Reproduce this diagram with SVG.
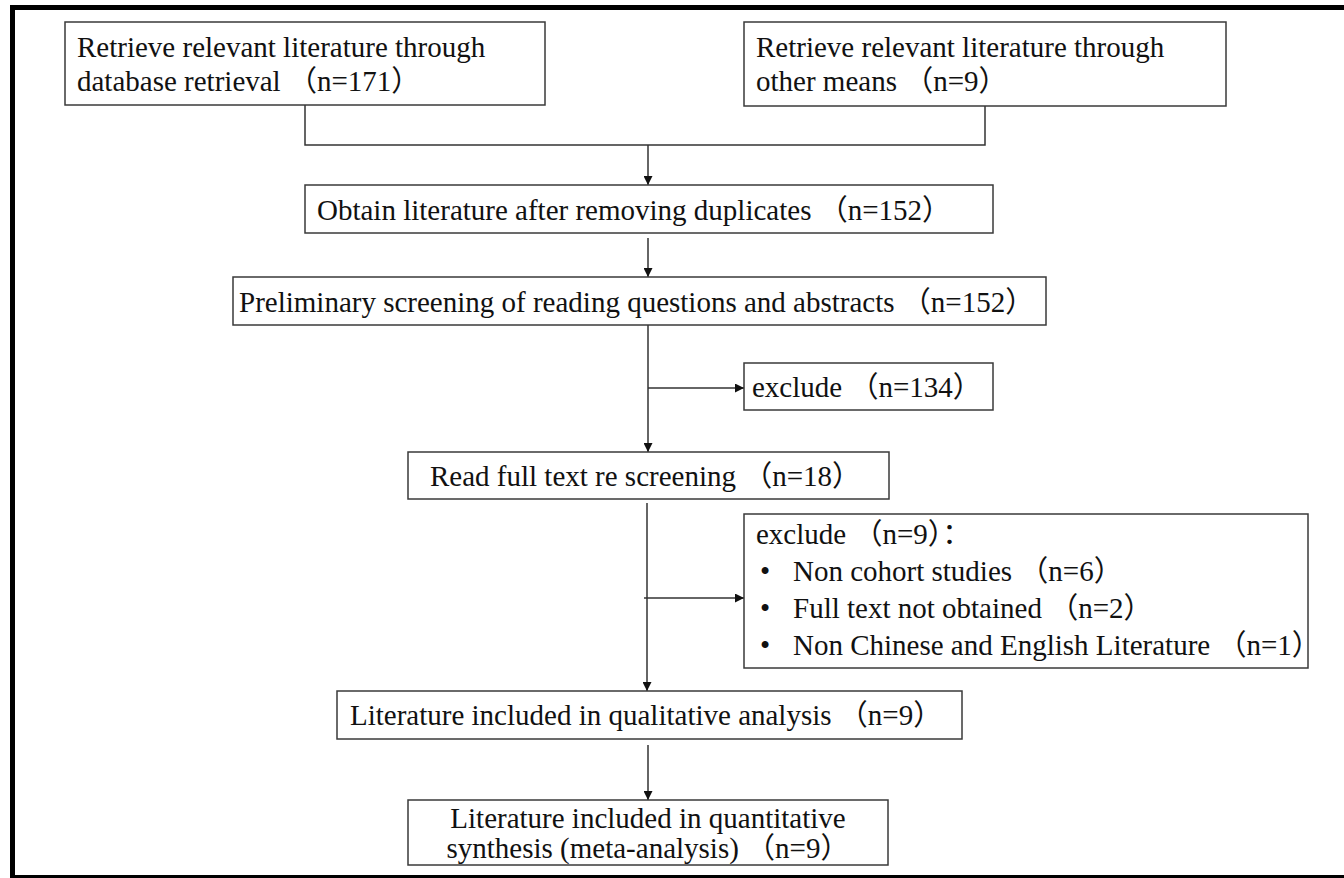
<svg xmlns="http://www.w3.org/2000/svg" width="1344" height="878" viewBox="0 0 1344 878">
<defs>
<style>
.box{fill:#fff;stroke:#3a3a3a;stroke-width:1.5}
.t{font-family:"Liberation Serif","Noto Sans CJK SC",serif;font-size:29px;fill:#111}
.ln{fill:none;stroke:#333;stroke-width:1.5}
</style>
<marker id="ah" viewBox="0 0 10 10" refX="10" refY="5" markerWidth="9" markerHeight="9" markerUnits="userSpaceOnUse" orient="auto">
<path d="M0,0 L10,5 L0,10 z" fill="#111"/>
</marker>
</defs>
<rect x="0" y="0" width="1344" height="878" fill="#fff"/>
<rect x="12.5" y="7.5" width="1400" height="870" fill="none" stroke="#000" stroke-width="5"/>
<g id="connectors">
<polyline class="ln" points="305,105 305,145 985,145 985,106"/>
<line class="ln" x1="648" y1="145" x2="648" y2="185" marker-end="url(#ah)"/>
<line class="ln" x1="648" y1="238" x2="648" y2="277" marker-end="url(#ah)"/>
<line class="ln" x1="648" y1="325" x2="648" y2="452" marker-end="url(#ah)"/>
<line class="ln" x1="648" y1="388" x2="744" y2="388" marker-end="url(#ah)"/>
<line class="ln" x1="647" y1="503" x2="647" y2="691" marker-end="url(#ah)"/>
<line class="ln" x1="644" y1="598" x2="744" y2="598" marker-end="url(#ah)"/>
<line class="ln" x1="648" y1="745" x2="648" y2="800" marker-end="url(#ah)"/>
</g>
<g id="n1">
<rect class="box" x="65" y="22" width="480" height="83"/>
<text class="t" x="77" y="57">Retrieve relevant literature through</text>
<text class="t" x="77" y="91">database retrieval （n=171）</text>
</g>
<g id="n2">
<rect class="box" x="744" y="22" width="482" height="84"/>
<text class="t" x="756" y="57">Retrieve relevant literature through</text>
<text class="t" x="756" y="91">other means （n=9）</text>
</g>
<g id="n3">
<rect class="box" x="305" y="185" width="688" height="48"/>
<text class="t" x="317" y="220">Obtain literature after removing duplicates （n=152）</text>
</g>
<g id="n4">
<rect class="box" x="233" y="277" width="813" height="48"/>
<text class="t" x="239" y="312">Preliminary screening of reading questions and abstracts （n=152）</text>
</g>
<g id="n5">
<rect class="box" x="744" y="363" width="249" height="47"/>
<text class="t" x="752" y="397">exclude （n=134）</text>
</g>
<g id="n6">
<rect class="box" x="408" y="452" width="481" height="47"/>
<text class="t" x="430" y="486">Read full text re screening （n=18）</text>
</g>
<g id="n7">
<rect class="box" x="744" y="514" width="564" height="154"/>
<text class="t" x="756" y="544">exclude （n=9）：</text>
<text class="t" x="760" y="581">•</text>
<text class="t" x="793" y="581">Non cohort studies （n=6）</text>
<text class="t" x="760" y="618">•</text>
<text class="t" x="793" y="618">Full text not obtained （n=2）</text>
<text class="t" x="760" y="655">•</text>
<text class="t" x="793" y="655">Non Chinese and English Literature （n=1）</text>
</g>
<g id="n8">
<rect class="box" x="337" y="691" width="625" height="48"/>
<text class="t" x="350" y="725">Literature included in qualitative analysis （n=9）</text>
</g>
<g id="n9">
<rect class="box" x="408" y="800" width="480" height="65"/>
<text class="t" x="648" y="828" text-anchor="middle">Literature included in quantitative</text>
<text class="t" x="648" y="858" text-anchor="middle">synthesis (meta-analysis) （n=9）</text>
</g>
</svg>
